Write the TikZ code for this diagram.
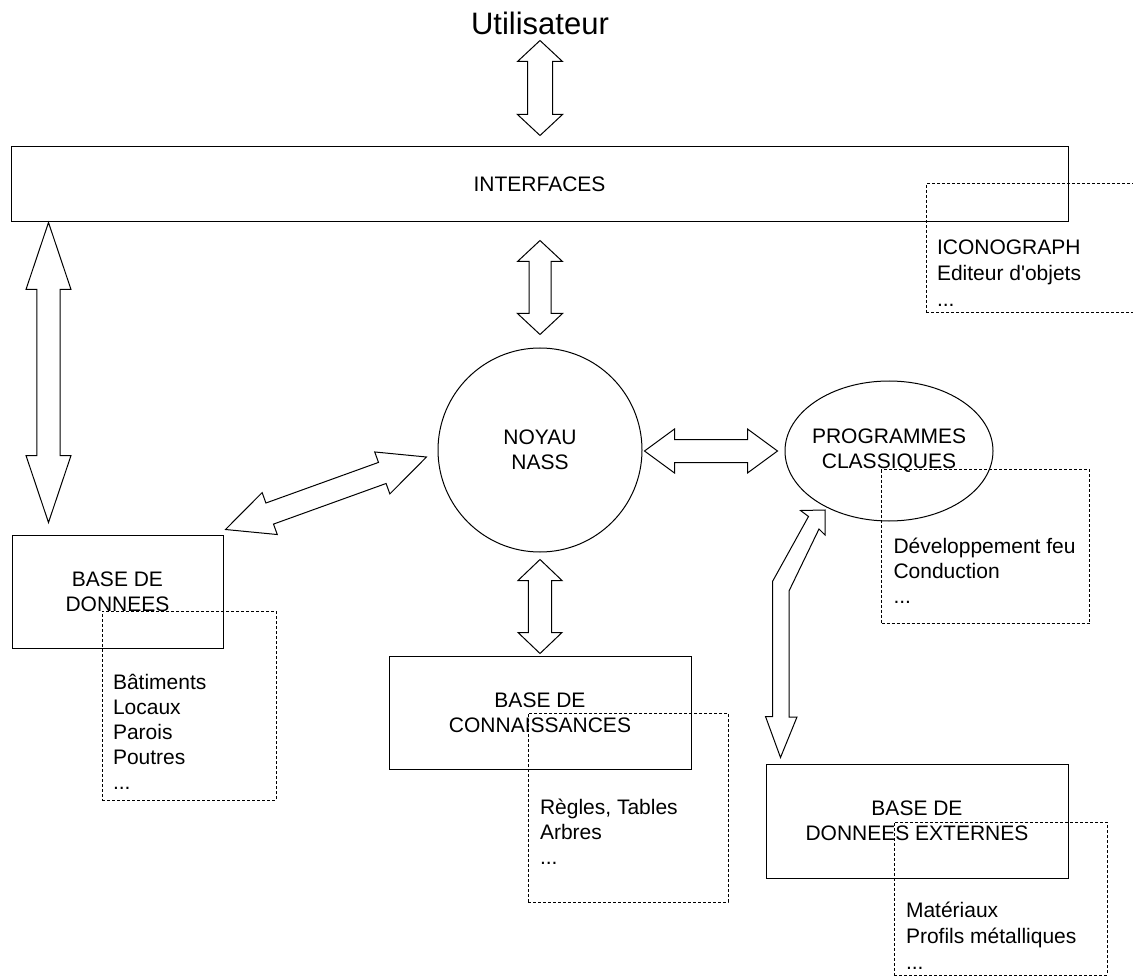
\documentclass[tikz,border=0pt]{standalone}
\usepackage{fontspec}
\setmainfont{Liberation Sans}
\usetikzlibrary{positioning,calc,shapes.geometric}
% hollow double block arrow: from, to, shaft half width, head half width, head length
\newcommand{\blockarrow}[5]{%
  \draw[blk] (#1)
    -- ($(#1)!#5!(#2)!#4!90:(#2)$) -- ($(#1)!#5!(#2)!#3!90:(#2)$)
    -- ($(#2)!#5!(#1)!#3!-90:(#1)$) -- ($(#2)!#5!(#1)!#4!-90:(#1)$)
    -- (#2)
    -- ($(#2)!#5!(#1)!#4!90:(#1)$) -- ($(#2)!#5!(#1)!#3!90:(#1)$)
    -- ($(#1)!#5!(#2)!#3!-90:(#2)$) -- ($(#1)!#5!(#2)!#4!-90:(#2)$)
    -- cycle;}

\begin{document}
\begin{tikzpicture}[
  x=1pt, y=-1pt,
  line width=1pt,
  font=\fontsize{21}{25}\selectfont,
  box/.style={draw, rectangle, align=center, inner sep=0pt},
  dbox/.style={draw, dash pattern=on 3pt off 2pt, rectangle, inner sep=0pt},
  lst/.style={align=left, inner sep=0pt},
  blk/.style={draw, fill=white, line join=miter},
]
\useasboundingbox (0,0) rectangle (1133,976);
\fill[white] (0,0) rectangle (1133,976);

% ---- main blocks ----
\node[font=\fontsize{31}{37}\selectfont, inner sep=0pt] (user) at (540,23) {Utilisateur};
\node[box, minimum width=1057pt, minimum height=75pt] (iface) at (539.5,184.5) {INTERFACES};
\node[draw, circle, minimum size=204pt, align=center, inner sep=0pt] (noyau) at (540,450) {NOYAU\\NASS};
\node[draw, ellipse, minimum width=208pt, minimum height=140pt, align=center, inner sep=-4pt] (prog) at (889,451) {PROGRAMMES\\CLASSIQUES};
\node[box, minimum width=211pt, minimum height=113pt] (bdd) at (117.5,591.5) {BASE DE\\DONNEES};
\node[box, minimum width=302pt, minimum height=113pt] (bdc) at (540,712.5) {BASE DE\\CONNAISSANCES};
\node[box, minimum width=302pt, minimum height=114pt] (bde) at (917,821) {BASE DE\\DONNEES EXTERNES};

% ---- dashed detail boxes ----
\node[dbox, minimum width=220pt, minimum height=129pt, anchor=north west] (dIco) at ($(iface.north east)+(-143,37)$) {};
\node[lst, font=\fontsize{21}{26}\selectfont, below right=52.8pt and 11pt of dIco.north west] (lIco) {\strut ICONOGRAPH\\Editeur d\textquotesingle objets\\...};

\node[dbox, minimum width=208pt, minimum height=154pt, anchor=north west] (dDev) at ($(prog.center)+(-8,18)$) {};
\node[lst, below right=66.5pt and 12pt of dDev.north west] (lDev) {\strut Développement feu\\Conduction\\...};

\node[dbox, minimum width=174pt, minimum height=189pt, below right=76pt and 90pt of bdd.north west] (dBdd) {};
\node[lst, below right=60.5pt and 11pt of dBdd.north west] (lBdd) {\strut Bâtiments\\Locaux\\Parois\\Poutres\\...};

\node[dbox, minimum width=200pt, minimum height=189pt, below right=57pt and 139pt of bdc.north west] (dBdc) {};
\node[lst, below right=83.5pt and 12pt of dBdc.north west] (lBdc) {\strut Règles, Tables\\Arbres\\...};

\node[dbox, minimum width=213pt, minimum height=153pt, below right=58pt and 128pt of bde.north west] (dBde) {};
\node[lst, font=\fontsize{21}{26}\selectfont, below right=76.8pt and 12pt of dBde.north west] (lBde) {\strut Matériaux\\Profils métalliques\\...};

% ---- arrow ends ----
\coordinate (t1) at ($(noyau.north |- iface.north)+(0,-106)$);
\coordinate (t2) at ($(noyau.north |- iface.north)+(0,-11)$);
\coordinate (l1) at ($(iface.south west)+(38,0)$);
\coordinate (l2) at ($(bdd.north west)+(37,-12)$);
\coordinate (m1) at ($(noyau.north |- iface.south)+(0,18)$);
\coordinate (m2) at ($(noyau.north)+(0,-13)$);
\coordinate (d1) at ($(bdd.north east)+(2,-5)$);
\coordinate (d2) at ($(noyau.west)+(-11,7)$);
\coordinate (h1) at ($(noyau.east)+(2,1)$);
\coordinate (h2) at ($(prog.west)+(-7,0)$);
\coordinate (b1) at ($(noyau.south)+(0,7)$);
\coordinate (b2) at ($(bdc.north)+(0,-2)$);
\coordinate (tA) at ($(prog.center)+(-64,59)$);
\coordinate (tB) at ($(bde.north west)+(15,-6)$);

% ---- connectors ----
\blockarrow{t1}{t2}{12.5pt}{22.5pt}{21pt}
\blockarrow{l1}{l2}{11.7pt}{22.5pt}{67pt}
\blockarrow{m1}{m2}{11pt}{22.5pt}{21pt}
\blockarrow{d1}{d2}{11.2pt}{22.3pt}{47pt}
\blockarrow{h1}{h2}{11.5pt}{22pt}{30pt}
\blockarrow{b1}{b2}{11.7pt}{22pt}{21pt}

% bent arrow programmes <-> external data
\draw[blk] (tA) -- ++(0,25) -- ++(-6,-6) -- ++(-30,62) -- ++(0,126) -- ++(8,0)
  -- (tB) -- ++(-15,-41) -- ++(7,0) -- ++(0,-135) -- ++(36,-65) -- ++(-8,-6) -- cycle;

\end{tikzpicture}
\end{document}
